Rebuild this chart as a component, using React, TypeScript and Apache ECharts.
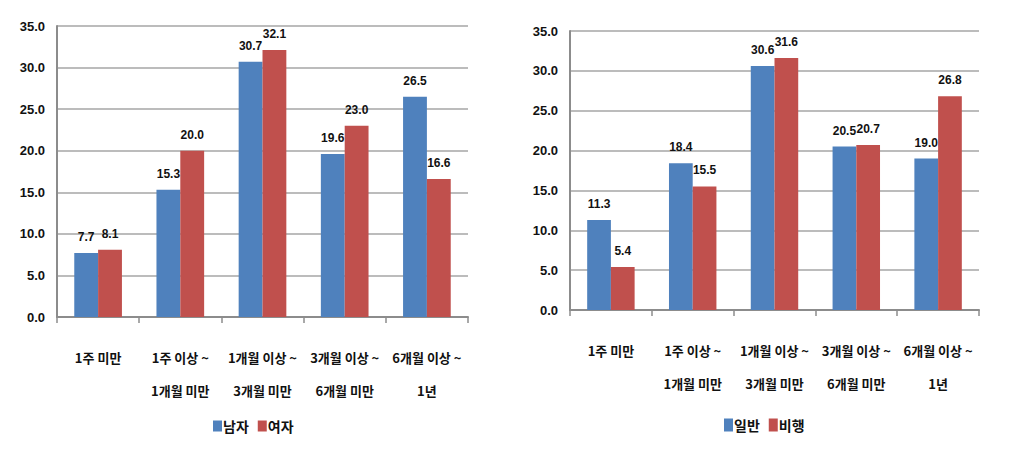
import React, { useEffect, useRef } from "react";
import * as echarts from "echarts";

const categories = [
  "1주 미만",
  "1주 이상 ~\n1개월 미만",
  "1개월 이상 ~\n3개월 미만",
  "3개월 이상 ~\n6개월 미만",
  "6개월 이상 ~\n1년",
];
const leftSeriesNames = ["남자", "여자"];
const maleValues = [7.7, 15.3, 30.7, 19.6, 26.5];
const femaleValues = [8.1, 20.0, 32.1, 23.0, 16.6];
const rightSeriesNames = ["일반", "비행"];
const generalValues = [11.3, 18.4, 30.6, 20.5, 19.0];
const delinquentValues = [5.4, 15.5, 31.6, 20.7, 26.8];
const yMin = 0;
const yMax = 35;
const yInterval = 5;

const BLUE = "#4F81BD";
const RED = "#C0504D";
const FONT = "'Liberation Sans Narrow', 'Liberation Sans', sans-serif";
const KFONT = "'Noto Sans CJK KR', sans-serif";

export default function App() {
  const ref = useRef<HTMLDivElement>(null);
  useEffect(() => {
    if (!ref.current) return;
    const chart = echarts.init(ref.current, undefined, { renderer: "svg" });
    const grids = [
      { left: 57, top: 26, width: 411, height: 291 },
      { left: 570, top: 31, width: 409, height: 279 },
    ];
    const xAxis = grids.map((_, i) => ({
      type: "category",
      gridIndex: i,
      data: categories,
      axisLine: { lineStyle: { color: "#8c8c8c", width: 2 } },
      axisTick: { show: true, length: 6, lineStyle: { color: "#8c8c8c", width: 1.5 } },
      axisLabel: {
        interval: 0,
        margin: 24,
        color: "#111",
        fontFamily: KFONT,
        fontWeight: "bold",
        fontSize: 13,
        lineHeight: 33,
      },
    }));
    const yAxis = grids.map((_, i) => ({
      type: "value",
      gridIndex: i,
      min: yMin,
      max: yMax,
      interval: yInterval,
      axisLine: { show: true, lineStyle: { color: "#8c8c8c", width: 2 } },
      axisTick: { show: false },
      splitLine: { lineStyle: { color: "#a6a6a6", width: 1.5 } },
      axisLabel: {
        margin: 12,
        color: "#111",
        fontFamily: FONT,
        fontWeight: "bold",
        fontSize: 13,
        formatter: (v: number) => v.toFixed(1),
      },
    }));
    const mkSeries = (name: string, data: number[], color: string, idx: number) => ({
      name,
      type: "bar",
      xAxisIndex: idx,
      yAxisIndex: idx,
      data,
      barGap: "0%",
      barCategoryGap: "42%",
      itemStyle: { color },
      label: {
        show: true,
        position: "top",
        distance: 10,
        color: "#111",
        fontFamily: FONT,
        fontWeight: "bold",
        fontSize: 12,
        formatter: (p: any) => Number(p.value).toFixed(1),
      },
    });
    chart.setOption({
      animation: false,
      grid: grids,
      xAxis,
      yAxis,
      legend: [
        {
          data: leftSeriesNames,
          left: 208,
          top: 414,
          itemWidth: 9,
          itemHeight: 11,
          itemGap: 9,
          icon: "rect",
          textStyle: { fontFamily: KFONT, fontWeight: "bold", fontSize: 14, color: "#111", padding: [0, 0, 0, -4] },
        },
        {
          data: rightSeriesNames,
          left: 719,
          top: 413,
          itemWidth: 9,
          itemHeight: 13,
          itemGap: 9,
          icon: "rect",
          textStyle: { fontFamily: KFONT, fontWeight: "bold", fontSize: 14, color: "#111", padding: [0, 0, 0, -4] },
        },
      ],
      series: [
        mkSeries(leftSeriesNames[0], maleValues, BLUE, 0),
        mkSeries(leftSeriesNames[1], femaleValues, RED, 0),
        mkSeries(rightSeriesNames[0], generalValues, BLUE, 1),
        mkSeries(rightSeriesNames[1], delinquentValues, RED, 1),
      ],
    });
    return () => chart.dispose();
  }, []);
  return (
    <div
      ref={ref}
      style={{ position: "fixed", left: 0, top: 0, width: 1023, height: 474, background: "#fff" }}
    />
  );
}
